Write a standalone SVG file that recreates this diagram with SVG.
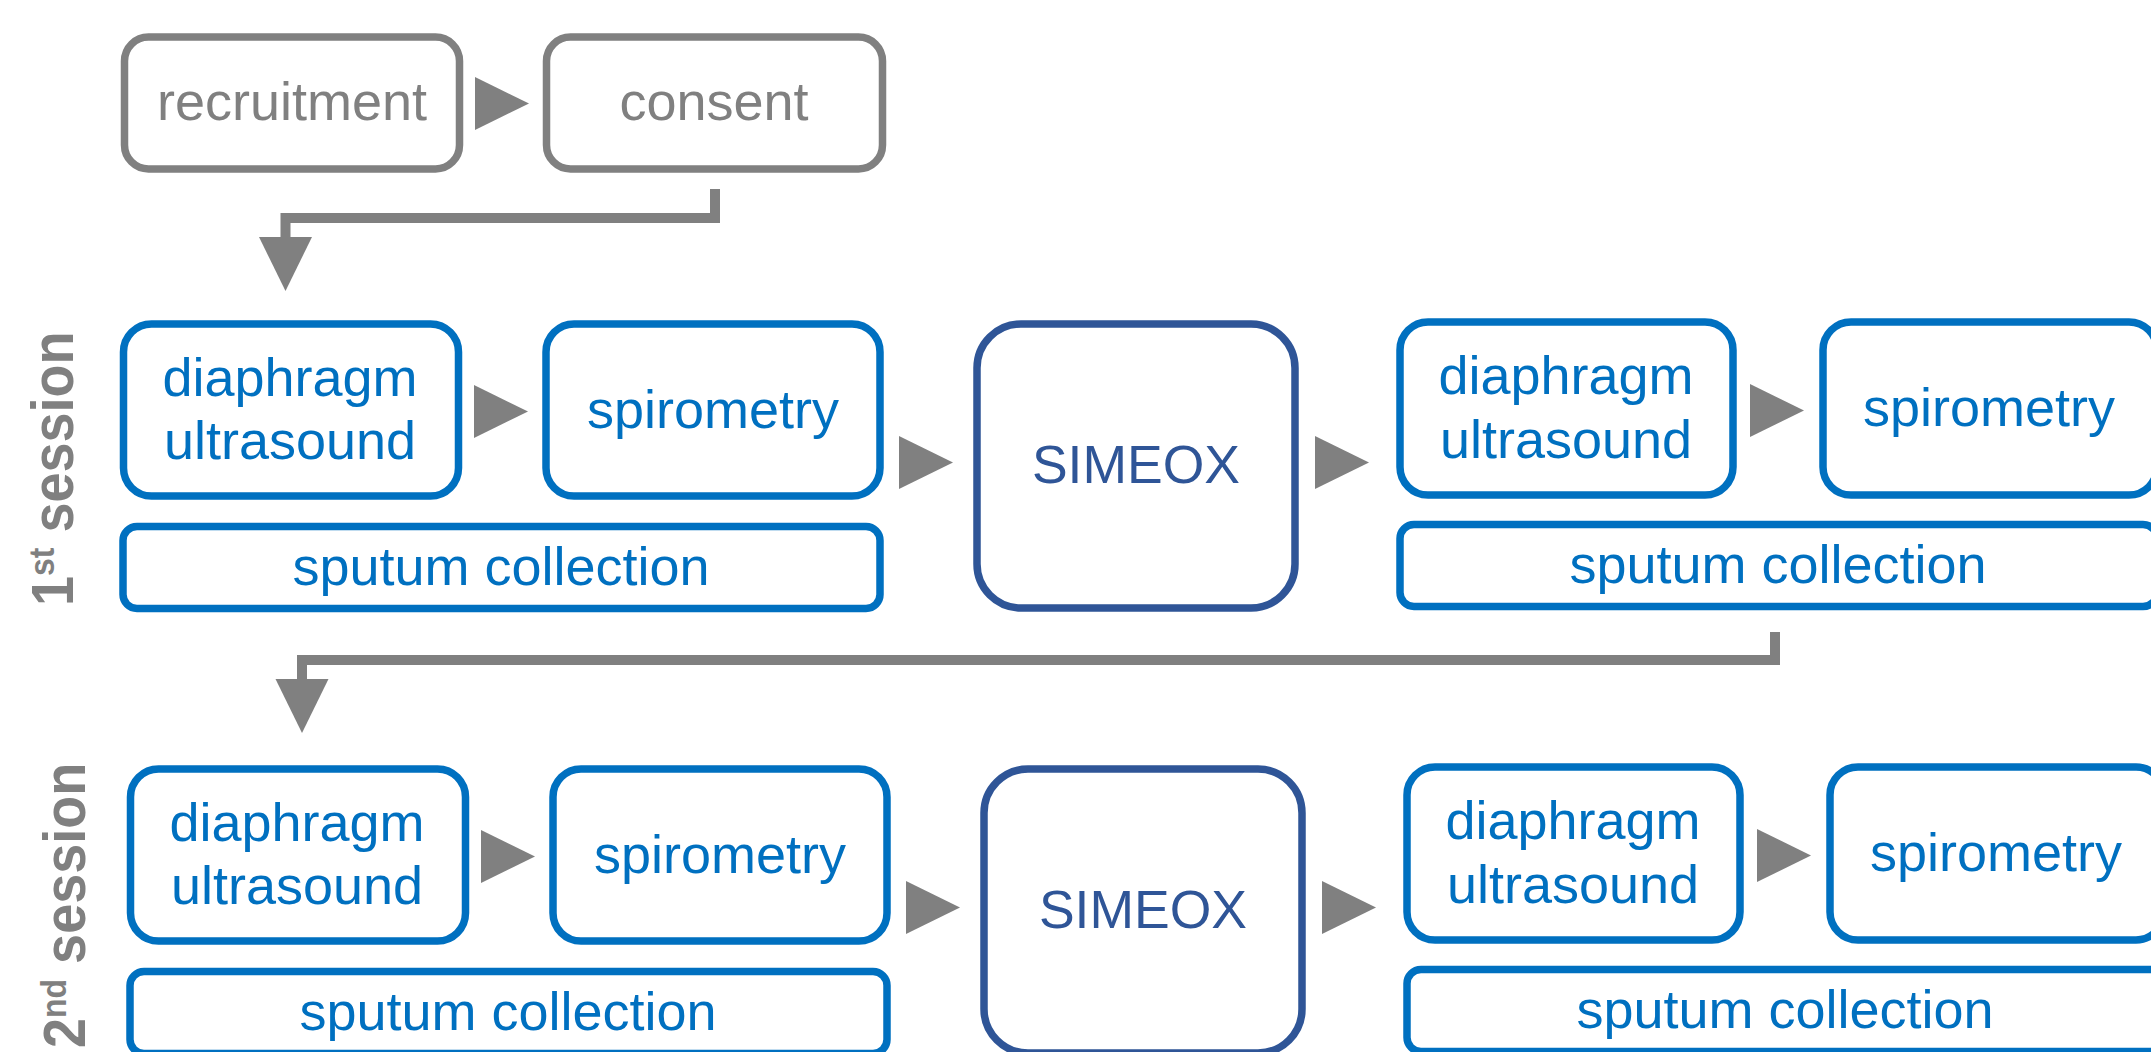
<svg xmlns="http://www.w3.org/2000/svg" xmlns:xlink="http://www.w3.org/1999/xlink" width="2151" height="1052" viewBox="0 0 2151 1052">
<defs>
<style>
.gbox{fill:#fff;stroke:#808080;stroke-width:7.5}
.bbox{fill:#fff;stroke:#0070C0;stroke-width:7.5}
.sbox{fill:#fff;stroke:#2F5597;stroke-width:7.5}
.gt{font-family:"Liberation Sans",Arial,sans-serif;font-size:54px;fill:#808080;text-anchor:middle}
.bt{font-family:"Liberation Sans",Arial,sans-serif;font-size:54px;fill:#0070C0;text-anchor:middle}
.st{font-family:"Liberation Sans",Arial,sans-serif;font-size:53.5px;fill:#2F5597;text-anchor:middle}
.lab{font-family:"Liberation Sans",Arial,sans-serif;font-size:54px;font-weight:bold;fill:#808080}
.line{fill:none;stroke:#808080;stroke-width:10;stroke-linejoin:miter}
.tri{fill:#808080}
</style>
<path id="ar" class="tri" d="M0,0 L54,26.5 L0,53 Z"/>
<path id="ad" class="tri" d="M0,0 L53,0 L26.5,54 Z"/>
</defs>
<rect width="2151" height="1052" fill="#fff"/>

<g id="recruitment"><rect class="gbox" x="124.5" y="37" width="335" height="132" rx="24"/><text class="gt" x="292" y="120">recruitment</text></g>
<g id="consent"><rect class="gbox" x="546.5" y="37" width="336" height="132" rx="24"/><text class="gt" x="714" y="120">consent</text></g>

<g id="label1"><text class="lab" transform="translate(73,606) rotate(-90) scale(1,1.08)">1<tspan font-size="32" dy="-18">st</tspan><tspan dy="18"> session</tspan></text></g>
<g id="label2"><text class="lab" transform="translate(85,1048) rotate(-90) scale(1,1.08)">2<tspan font-size="32" dy="-18">nd</tspan><tspan dy="18"> session</tspan></text></g>

<g id="row1">
<g id="diaphragm1"><rect class="bbox" x="123.5" y="324" width="335" height="172" rx="28"/><text class="bt" x="290" y="396">diaphragm</text><text class="bt" x="290" y="459">ultrasound</text></g>
<g id="spirometry1"><rect class="bbox" x="546" y="324" width="334" height="172" rx="28"/><text class="bt" x="713" y="428">spirometry</text></g>
<g id="sputum1"><rect class="bbox" x="123" y="526.5" width="757" height="82" rx="14"/><text class="bt" x="501" y="585">sputum collection</text></g>
<g id="simeox1"><rect class="sbox" x="977" y="324" width="318" height="284" rx="44"/><text class="st" x="1136" y="483">SIMEOX</text></g>
<g id="diaphragm2"><rect class="bbox" x="1400" y="322" width="333" height="173" rx="28"/><text class="bt" x="1566" y="394">diaphragm</text><text class="bt" x="1566" y="458">ultrasound</text></g>
<g id="spirometry2"><rect class="bbox" x="1823" y="322" width="334" height="173" rx="28"/><text class="bt" x="1989" y="426">spirometry</text></g>
<g id="sputum2"><rect class="bbox" x="1400" y="524.5" width="757" height="82" rx="14"/><text class="bt" x="1778" y="583">sputum collection</text></g>
</g>

<g id="row2" transform="translate(7,445)">
<g id="diaphragm3"><rect class="bbox" x="123.5" y="324" width="335" height="172" rx="28"/><text class="bt" x="290" y="396">diaphragm</text><text class="bt" x="290" y="459">ultrasound</text></g>
<g id="spirometry3"><rect class="bbox" x="546" y="324" width="334" height="172" rx="28"/><text class="bt" x="713" y="428">spirometry</text></g>
<g id="sputum3"><rect class="bbox" x="123" y="526.5" width="757" height="82" rx="14"/><text class="bt" x="501" y="585">sputum collection</text></g>
<g id="simeox2"><rect class="sbox" x="977" y="324" width="318" height="284" rx="44"/><text class="st" x="1136" y="483">SIMEOX</text></g>
<g id="diaphragm4"><rect class="bbox" x="1400" y="322" width="333" height="173" rx="28"/><text class="bt" x="1566" y="394">diaphragm</text><text class="bt" x="1566" y="458">ultrasound</text></g>
<g id="spirometry4"><rect class="bbox" x="1823" y="322" width="334" height="173" rx="28"/><text class="bt" x="1989" y="426">spirometry</text></g>
<g id="sputum4"><rect class="bbox" x="1400" y="524.5" width="757" height="82" rx="14"/><text class="bt" x="1778" y="583">sputum collection</text></g>
</g>

<g id="connectors">
<use href="#ar" x="475" y="77"/>
<polyline class="line" points="715,189 715,218 285.5,218 285.5,240"/>
<use href="#ad" x="259" y="237"/>
<use href="#ar" x="474" y="385"/>
<use href="#ar" x="899" y="436"/>
<use href="#ar" x="1315" y="436"/>
<use href="#ar" x="1750" y="384"/>
<polyline class="line" points="1775,632 1775,660 302,660 302,682"/>
<use href="#ad" x="275.5" y="679"/>
<use href="#ar" x="481" y="830"/>
<use href="#ar" x="906" y="881"/>
<use href="#ar" x="1322" y="881"/>
<use href="#ar" x="1757" y="829"/>
</g>
</svg>
